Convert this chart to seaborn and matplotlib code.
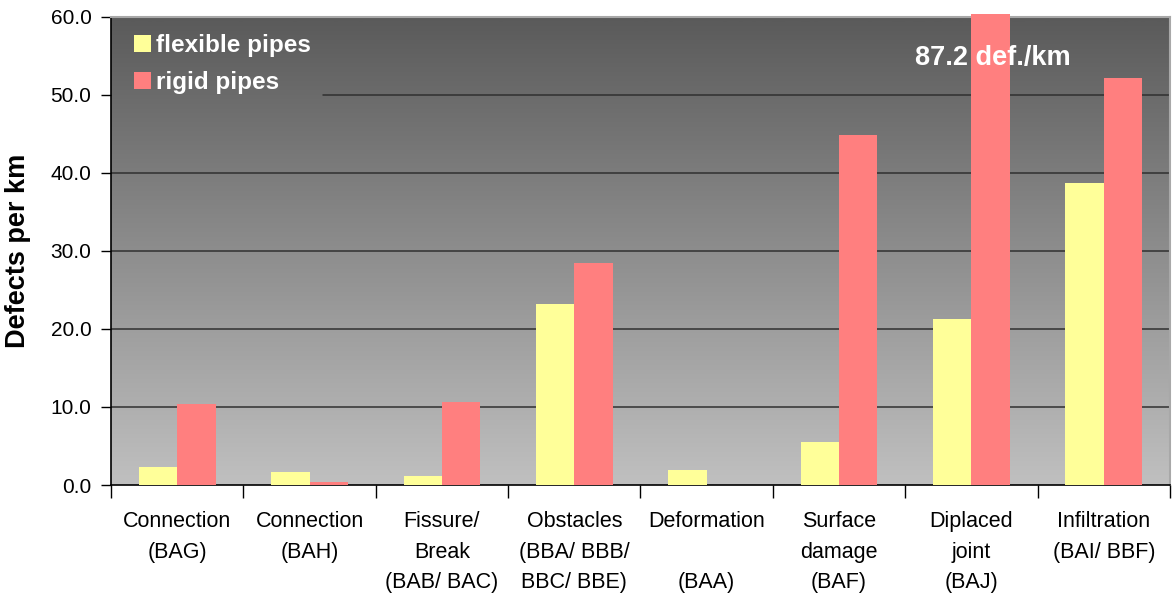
#!/usr/env python

import numpy as np
import pandas as pd
import seaborn as sns
import matplotlib.pyplot as plt
from matplotlib.colors import LinearSegmentedColormap
from matplotlib.patches import Rectangle

categories = ['Connection\n(BAG)', 'Connection\n(BAH)', 'Fissure/\nBreak\n(BAB/ BAC)',
              'Obstacles\n(BBA/ BBB/\nBBC/ BBE)', 'Deformation\n\n(BAA)', 'Surface\ndamage\n(BAF)',
              'Diplaced\njoint\n(BAJ)', 'Infiltration\n(BAI/ BBF)']
flexible = [2.3, 1.7, 1.2, 23.2, 1.9, 5.5, 21.3, 38.7]
rigid = [10.4, 0.4, 10.6, 28.5, 0.0, 44.9, 87.2, 52.2]
series = ['flexible pipes', 'rigid pipes']

df = pd.DataFrame({
    'category': categories * 2,
    'value': flexible + rigid,
    'pipe': [series[0]] * len(categories) + [series[1]] * len(categories),
})

sns.set_style('white')
plt.rcParams['font.family'] = ['Liberation Sans', 'DejaVu Sans']
plt.rcParams['text.color'] = 'black'
plt.rcParams['axes.labelcolor'] = 'black'
plt.rcParams['xtick.color'] = 'black'
plt.rcParams['ytick.color'] = 'black'

fig = plt.figure(figsize=(11.73, 5.94), dpi=100)
ax = fig.add_axes([0.0946, 0.1835, 0.9028, 0.7879])

# grey gradient background of the plot area
grad = np.linspace(0, 1, 256).reshape(-1, 1)
cmap = LinearSegmentedColormap.from_list('bg', ['#c0c0c0', '#5a5a5a'])
ax.imshow(grad, extent=[0, 1, 0, 1], transform=ax.transAxes, aspect='auto',
          cmap=cmap, origin='lower', zorder=0)
ax.set_facecolor('none')

sns.barplot(data=df, x='category', y='value', hue='pipe', ax=ax,
            palette=['#ffff99', '#ff7f7f'], width=0.58, saturation=1,
            linewidth=0, zorder=3)

ax.set_xlim(-0.5, len(categories) - 0.5)
ax.set_ylim(0, 60)

# the off-scale bar pokes a bit above the frame
for p in ax.patches:
    if p.get_height() > 60:
        p.set_clip_path(Rectangle((0, 0), 1, 1.007, transform=ax.transAxes))

ax.set_yticks(np.arange(0, 61, 10))
ax.set_yticklabels(['%.1f' % v for v in np.arange(0, 61, 10)], fontsize=15)
for y in range(10, 60, 10):
    # the legend box hides the left part of the 50 line
    ax.axhline(y, xmin=0.2 if y == 50 else 0, color='#303030', lw=1.1, zorder=1)

ax.set_xticks(np.arange(-0.5, len(categories), 1))
ax.set_xticklabels([])
ax.set_xticks(np.arange(len(categories)), minor=True)
ax.set_xticklabels(categories, minor=True, fontsize=15.5, linespacing=1.58, va='top')
ax.tick_params(axis='x', which='major', direction='out', length=9, width=1, color='black', bottom=True)
ax.tick_params(axis='x', which='minor', length=0, pad=19)
ax.tick_params(axis='y', direction='out', length=7, width=1, color='black', left=True, pad=7)

ax.set_xlabel('')
ax.set_ylabel('Defects per km', fontsize=19.5, fontweight='bold', labelpad=14)

for s in ['left', 'bottom']:
    ax.spines[s].set_color('black')
    ax.spines[s].set_linewidth(1.2)
for s in ['top', 'right']:
    ax.spines[s].set_color('#a8a8a8')
    ax.spines[s].set_linewidth(1.5)

ax.text(6.16, 54.7, '87.2 def./km', color='white', fontsize=19.5, fontweight='bold',
        ha='center', va='center', zorder=5)

leg = ax.legend(loc='upper left', bbox_to_anchor=(0.0, 1.014), frameon=False,
                prop={'size': 17.5, 'weight': 'bold'}, handlelength=0.7, handleheight=0.7,
                handletextpad=0.2, labelspacing=0.6, borderpad=0.45)
for t in leg.get_texts():
    t.set_color('white')
leg.set_zorder(4)

fig.savefig('out.png', dpi=100)
